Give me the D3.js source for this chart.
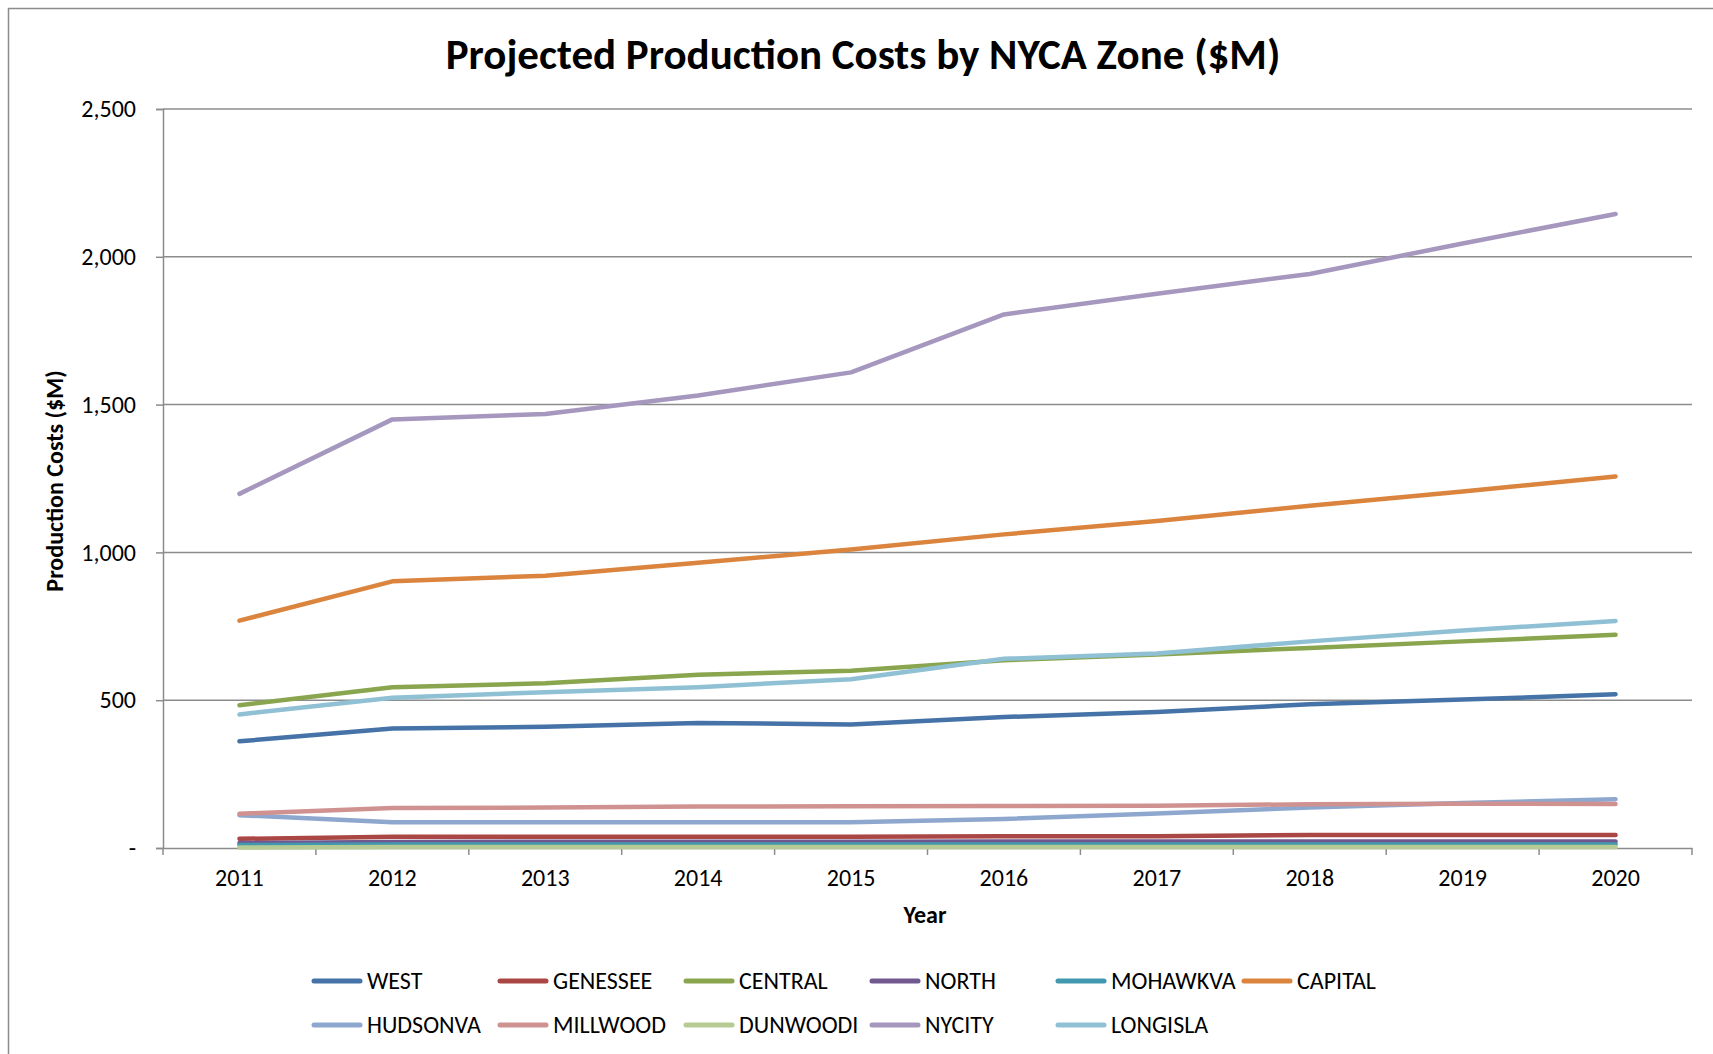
<!DOCTYPE html>
<html>
<head>
<meta charset="utf-8">
<script src="https://cdn.jsdelivr.net/npm/d3@7"></script>
<style>
  html, body { margin: 0; padding: 0; background: #fff; }
  svg { display: block; }
  text { font-family: Carlito, Calibri, Lato, "Open Sans", sans-serif; fill: #000; }
</style>
</head>
<body>
<svg id="chart" width="1713" height="1054"></svg>
<script>
const years = ["2011","2012","2013","2014","2015","2016","2017","2018","2019","2020"];
const seriesNames = ["WEST","GENESSEE","CENTRAL","NORTH","MOHAWKVA","CAPITAL","HUDSONVA","MILLWOOD","DUNWOODI","NYCITY","LONGISLA"];
const WEST     = [361, 404, 410, 423, 418, 443, 460, 486, 502, 520];
const GENESSEE = [31, 38, 38, 38, 38, 40, 40, 44, 44, 44];
const CENTRAL  = [483, 544, 557, 586, 600, 635, 655, 677, 699, 721];
const NORTH    = [17, 20, 21, 21, 21, 22, 22, 22, 22, 22];
const MOHAWKVA = [10, 12, 12, 12, 12, 12, 12, 12, 12, 12];
const CAPITAL  = [769, 902, 921, 965, 1010, 1061, 1106, 1158, 1206, 1257];
const HUDSONVA = [111, 87, 87, 87, 87, 98, 117, 137, 152, 165];
const MILLWOOD = [116, 135, 137, 140, 141, 142, 143, 148, 150, 149];
const DUNWOODI = [2, 3, 3, 3, 3, 3, 3, 3, 3, 3];
const NYCITY   = [1198, 1450, 1468, 1531, 1609, 1805, 1875, 1942, 2045, 2145];
const LONGISLA = [452, 508, 527, 544, 571, 640, 658, 699, 736, 768];
const yTicks = [0, 500, 1000, 1500, 2000, 2500];
const colors = ["#4572A7","#AA4643","#89A54E","#71588F","#4198AF","#DB843D","#8EA7CE","#D09291","#B6CB93","#A597BE","#8FC0D4"];

const seriesValues = [WEST, GENESSEE, CENTRAL, NORTH, MOHAWKVA, CAPITAL, HUDSONVA, MILLWOOD, DUNWOODI, NYCITY, LONGISLA];
const series = seriesNames.map((n, i) => ({ name: n, values: seriesValues[i], color: colors[i] }));

const svg = d3.select("#chart");
const L = 163, R = 1692, T = 109, B = 848;

// chart border (cropped at right/bottom)
svg.append("path").attr("d", "M8.5,1054 L8.5,8.5 L1713,8.5")
  .attr("fill", "none").attr("stroke", "#8c8c8c").attr("stroke-width", 1.5);

const x = d3.scaleBand().domain(years).range([L, R]).paddingInner(0).paddingOuter(0);
const y = d3.scaleLinear().domain([0, 2500]).range([B, T]);
const xc = d => x(d) + x.bandwidth() / 2;

// gridlines
svg.append("g").selectAll("line").data(yTicks.filter(t => t > 0)).join("line")
  .attr("x1", L).attr("x2", R).attr("y1", d => y(d)).attr("y2", d => y(d))
  .attr("stroke", "#8c8c8c").attr("stroke-width", 1.5);

// y axis
const yAxis = d3.axisLeft(y).tickValues(yTicks).tickSize(7).tickPadding(20)
  .tickFormat(d => d === 0 ? "-" : d3.format(",")(d));
const gy = svg.append("g").attr("transform", `translate(${L},0)`).call(yAxis);
gy.select(".domain").attr("stroke", "#8c8c8c").attr("stroke-width", 1.5);
gy.selectAll(".tick line").attr("stroke", "#8c8c8c").attr("stroke-width", 1.5);
gy.selectAll(".tick text").style("font-size", "24px").style("font-family", "Carlito, Calibri, Lato, sans-serif");

// x axis
const xAxis = d3.axisBottom(x).tickSize(0).tickPadding(21);
const gx = svg.append("g").attr("transform", `translate(0,${B})`).call(xAxis);
gx.select(".domain").attr("stroke", "#8c8c8c").attr("stroke-width", 1.5);
gx.selectAll(".tick text").style("font-size", "24px").style("font-family", "Carlito, Calibri, Lato, sans-serif");
// x tick marks at category boundaries
const bounds = years.map(d => x(d)).concat([R]);
svg.append("g").selectAll("line").data(bounds).join("line")
  .attr("x1", d => d).attr("x2", d => d).attr("y1", B).attr("y2", B + 7)
  .attr("stroke", "#8c8c8c").attr("stroke-width", 1.5);

// lines
const line = d3.line().x((d, i) => xc(years[i])).y(d => y(d));
svg.append("g").selectAll("path").data(series).join("path")
  .attr("d", d => line(d.values))
  .attr("fill", "none").attr("stroke", d => d.color)
  .attr("stroke-width", 4.5).attr("stroke-linecap", "round").attr("stroke-linejoin", "round");

// title
svg.append("text").attr("x", 863).attr("y", 69).attr("text-anchor", "middle")
  .style("font-size", "43px").style("font-weight", "bold")
  .text("Projected Production Costs by NYCA Zone ($M)");

// axis titles
svg.append("text").attr("transform", "translate(63,481) rotate(-90)").attr("text-anchor", "middle")
  .style("font-size", "24px").style("font-weight", "bold").text("Production Costs ($M)");
svg.append("text").attr("x", 925).attr("y", 923).attr("text-anchor", "middle")
  .style("font-size", "24px").style("font-weight", "bold").text("Year");

// legend
const legX0 = 312, colW = 186, rowY = [981, 1025];
const leg = svg.append("g").selectAll("g").data(series).join("g")
  .attr("transform", (d, i) => `translate(${legX0 + (i % 6) * colW},${rowY[Math.floor(i / 6)]})`);
leg.append("line").attr("x1", 2).attr("x2", 48).attr("y1", 0).attr("y2", 0)
  .attr("stroke", d => d.color).attr("stroke-width", 5).attr("stroke-linecap", "round");
leg.append("text").attr("x", 55).attr("y", 8).style("font-size", "24px").text(d => d.name);
</script>
</body>
</html>
